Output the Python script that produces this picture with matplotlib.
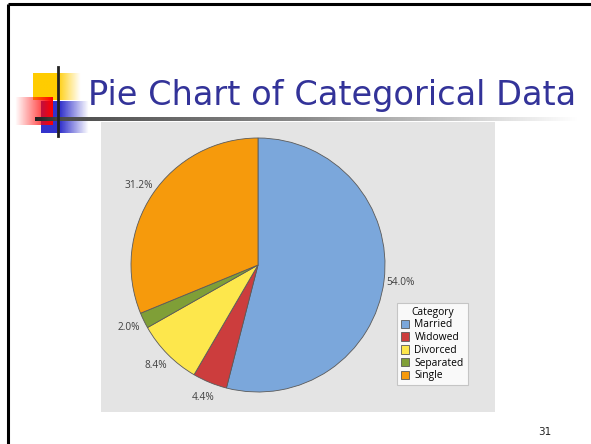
import numpy as np
import matplotlib
matplotlib.use("Agg")
import matplotlib.pyplot as plt
from matplotlib.patches import Rectangle

# Marital status shares (percent)
categories = ["Married", "Widowed", "Divorced", "Separated", "Single"]
shares = [54.0, 4.4, 8.4, 2.0, 31.2]
colors = ["#7BA7DB", "#CC3D3D", "#FDE74C", "#7F9F37", "#F69A0C"]
title_text = "Pie Chart of Categorical Data"
legend_title = "Category"
page_number = "31"

W, H = 591, 444
fig = plt.figure(figsize=(W / 100, H / 100), dpi=100)
fig.patch.set_facecolor("white")

# Slide layer in pixel coordinates (y pointing down)
ov = fig.add_axes([0, 0, 1, 1])
ov.set_xlim(0, W)
ov.set_ylim(H, 0)
ov.axis("off")


def gradient_block(ax, x0, x1, y0, y1, rgb, alpha_stops, z):
    xs = np.linspace(0, 1, 64)
    a = np.interp(xs, [s[0] for s in alpha_stops], [s[1] for s in alpha_stops])
    img = np.zeros((2, 64, 4))
    img[..., :3] = rgb
    img[..., 3] = a
    ax.imshow(img, extent=(x0, x1, y1, y0), aspect="auto",
              interpolation="bilinear", zorder=z)


# Slide frame
ov.plot([8, 8], [4, H], color="black", lw=2.2, solid_capstyle="butt", zorder=5)
ov.plot([8, W], [4.5, 4.5], color="black", lw=2.2, solid_capstyle="butt", zorder=5)

# Title bullet decoration
gradient_block(ov, 33, 81, 74, 100, (1.0, 0.80, 0.0), [(0, 1), (0.5, 1), (1, 0)], 2)
gradient_block(ov, 41, 89, 101, 133, (0.2, 0.2, 0.8), [(0, 1), (0.4, 1), (1, 0)], 3)
gradient_block(ov, 15, 53, 97, 125, (1.0, 0.0, 0.0), [(0, 0), (1, 1)], 4)
ov.plot([57.5, 57.5], [67, 136], color="#222222", lw=2.0, zorder=6)

# Title underline fading to white
line = np.zeros((1, 256, 3))
t = np.linspace(0, 1, 256)
g = np.interp(t, [0, 0.05, 0.5, 1.0], [0.13, 0.3, 0.55, 1.0])
line[0, :, :] = g[:, None]
ov.imshow(line, extent=(35, 578, 121, 117.5), aspect="auto",
          interpolation="bilinear", zorder=5)

ov.text(88, 105, title_text, color="#333399", fontsize=24.2,
        family="DejaVu Sans", va="baseline", ha="left", zorder=6)

ov.text(545, 432, page_number, fontsize=7.5, color="#222222",
        ha="center", va="center", family="DejaVu Sans")

# Chart panel
px0, px1, py0, py1 = 101, 495, 122, 412
ov.add_patch(Rectangle((px0, py0), px1 - px0, py1 - py0,
                       facecolor="#E4E4E4", edgecolor="none", zorder=1))

# Pie axes in pixel units (y pointing up)
pa = fig.add_axes([px0 / W, (H - py1) / H, (px1 - px0) / W, (py1 - py0) / H])
pa.patch.set_alpha(0)
cx, cy, r = 258, H - 265, 127
wedges, texts, autotexts = pa.pie(
    shares, colors=colors, startangle=90, counterclock=False,
    center=(cx, cy), radius=r, autopct="%.1f%%", pctdistance=1.13,
    wedgeprops=dict(edgecolor="#5A5A5A", linewidth=0.6),
    textprops=dict(fontsize=7.3, color="#404040", family="Open Sans"))
pa.set_xlim(px0, px1)
pa.set_ylim(H - py1, H - py0)
pa.set_aspect("auto")
pa.axis("off")

leg = fig.legend(wedges, categories, title=legend_title,
                 loc="upper left", bbox_to_anchor=(397 / W, 1 - 302.5 / H),
                 frameon=True, fancybox=False, title_fontsize=7.4,
                 handlelength=0.8, handleheight=0.9, handletextpad=0.5,
                 labelspacing=0.17, borderpad=0.4, borderaxespad=0,
                 prop=dict(family="Open Sans", size=7.4))
leg.get_frame().set_edgecolor("#BBBBBB")
leg.get_frame().set_linewidth(0.8)
leg.get_title().set_family("Open Sans")

fig.savefig("out.png", dpi=100)
